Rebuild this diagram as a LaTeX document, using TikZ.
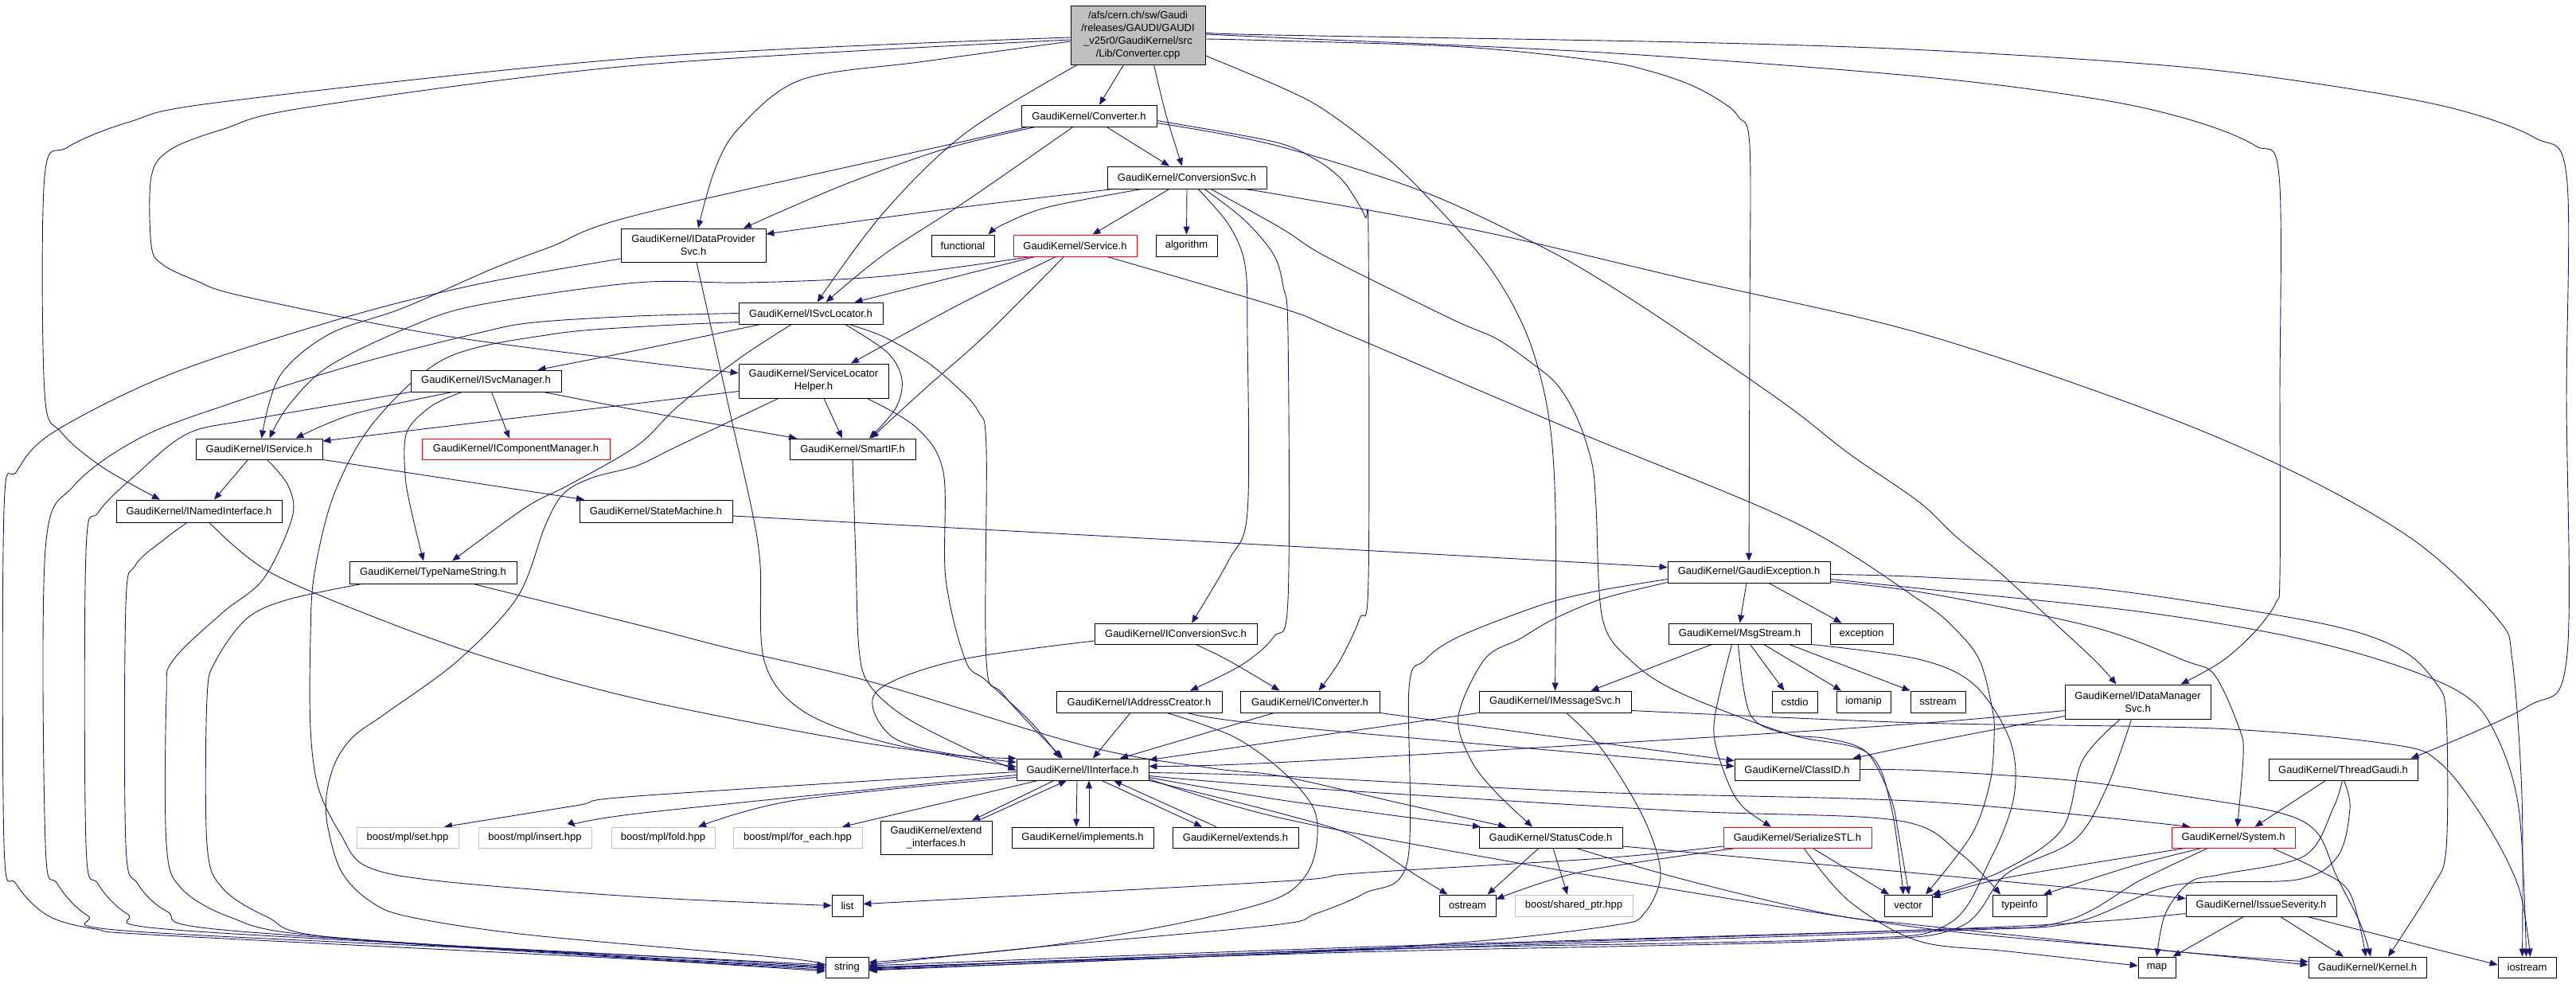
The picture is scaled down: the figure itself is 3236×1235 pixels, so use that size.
\documentclass[tikz,border=0pt]{standalone}
\usepackage{fontspec}
\setmainfont{Liberation Sans}
\usetikzlibrary{arrows.meta}
\pgfdeclarelayer{bg}
\pgfsetlayers{bg,main}
\definecolor{eblue}{HTML}{191970}
\definecolor{ngray}{HTML}{BFBFBF}
\tikzset{
  nd/.style={draw=black, line width=0.8pt, inner sep=0pt, align=center, fill=white, font=\fontsize{13}{16}\selectfont},
  rootst/.style={fill=ngray},
  redn/.style={draw=red},
  grayn/.style={draw=ngray},
  dep/.style={draw=eblue, line width=0.9pt, -{Triangle[length=10pt,width=8pt]}}
}
\newcommand{\gnode}[7]{\node[nd,#1,minimum width={(#5-#3)*1pt},minimum height={(#6-#4)*1pt}] (#2) at ({(#3+#5)/2},{(#4+#6)/2}) {#7};}
\newcommand{\dpl}[1]{\draw[dep] plot[smooth,tension=0.55] coordinates {#1};}
\begin{document}
\begin{tikzpicture}[x=1pt,y=-1pt]
\useasboundingbox (0,0) rectangle (3236,1235);
\gnode{rootst}{root}{1345}{7}{1514}{81}{/afs/cern.ch/sw/Gaudi\\/releases/GAUDI/GAUDI\\\_v25r0/GaudiKernel/src\\/Lib/Converter.cpp}
\gnode{}{conv}{1283}{132}{1453}{159}{GaudiKernel/Converter.h}
\gnode{}{csvc}{1391}{209}{1591}{237}{GaudiKernel/ConversionSvc.h}
\gnode{}{idp}{780}{287}{962}{329}{GaudiKernel/IDataProvider\\Svc.h}
\gnode{}{func}{1170}{295}{1249}{322}{functional}
\gnode{redn}{svc}{1273}{295}{1428}{322}{GaudiKernel/Service.h}
\gnode{}{algo}{1452}{295}{1529}{322}{algorithm}
\gnode{}{isl}{928}{380}{1109}{407}{GaudiKernel/ISvcLocator.h}
\gnode{}{ism}{516}{465}{705}{492}{GaudiKernel/ISvcManager.h}
\gnode{}{slh}{928}{457}{1116}{500}{GaudiKernel/ServiceLocator\\Helper.h}
\gnode{}{isvc}{246}{551}{405}{577}{GaudiKernel/IService.h}
\gnode{redn}{icm}{530}{551}{766}{577}{GaudiKernel/IComponentManager.h}
\gnode{}{smart}{992}{551}{1150}{577}{GaudiKernel/SmartIF.h}
\gnode{}{ini}{146}{628}{354}{656}{GaudiKernel/INamedInterface.h}
\gnode{}{sm}{728}{628}{920}{656}{GaudiKernel/StateMachine.h}
\gnode{}{tns}{439}{705}{649}{733}{GaudiKernel/TypeNameString.h}
\gnode{}{gex}{2095}{705}{2299}{732}{GaudiKernel/GaudiException.h}
\gnode{}{ics}{1375}{783}{1579}{809}{GaudiKernel/IConversionSvc.h}
\gnode{}{msg}{2096}{783}{2275}{809}{GaudiKernel/MsgStream.h}
\gnode{}{exc}{2299}{783}{2378}{809}{exception}
\gnode{}{iac}{1327}{868}{1535}{895}{GaudiKernel/IAddressCreator.h}
\gnode{}{icv}{1558}{868}{1733}{895}{GaudiKernel/IConverter.h}
\gnode{}{ims}{1858}{868}{2049}{895}{GaudiKernel/IMessageSvc.h}
\gnode{}{cstdio}{2226}{868}{2283}{895}{cstdio}
\gnode{}{iomanip}{2307}{868}{2375}{895}{iomanip}
\gnode{}{sstream}{2400}{868}{2469}{895}{sstream}
\gnode{}{idm}{2594}{860}{2777}{903}{GaudiKernel/IDataManager\\Svc.h}
\gnode{}{ii}{1277}{953}{1443}{980}{GaudiKernel/IInterface.h}
\gnode{}{cid}{2179}{953}{2336}{980}{GaudiKernel/ClassID.h}
\gnode{}{tg}{2850}{953}{3037}{980}{GaudiKernel/ThreadGaudi.h}
\gnode{grayn}{bset}{448}{1039}{576}{1065}{boost/mpl/set.hpp}
\gnode{grayn}{bins}{601}{1039}{743}{1065}{boost/mpl/insert.hpp}
\gnode{grayn}{bfold}{768}{1039}{898}{1065}{boost/mpl/fold.hpp}
\gnode{grayn}{bfe}{921}{1039}{1083}{1065}{boost/mpl/for\_each.hpp}
\gnode{}{ext}{1106}{1031}{1246}{1073}{GaudiKernel/extend\\\_interfaces.h}
\gnode{}{impl}{1271}{1039}{1449}{1065}{GaudiKernel/implements.h}
\gnode{}{extends}{1473}{1039}{1631}{1065}{GaudiKernel/extends.h}
\gnode{}{sc}{1858}{1039}{2038}{1065}{GaudiKernel/StatusCode.h}
\gnode{redn}{sstl}{2165}{1039}{2351}{1065}{GaudiKernel/SerializeSTL.h}
\gnode{redn}{sys}{2728}{1039}{2883}{1065}{GaudiKernel/System.h}
\gnode{}{list}{1045}{1124}{1084}{1151}{list}
\gnode{}{ostream}{1808}{1124}{1879}{1151}{ostream}
\gnode{grayn}{bsp}{1903}{1124}{2051}{1151}{boost/shared\_ptr.hpp}
\gnode{}{vector}{2367}{1124}{2427}{1151}{vector}
\gnode{}{typeinfo}{2503}{1124}{2571}{1151}{typeinfo}
\gnode{}{isev}{2746}{1124}{2935}{1151}{GaudiKernel/IssueSeverity.h}
\gnode{}{string}{1037}{1202}{1091}{1228}{string}
\gnode{}{map}{2686}{1202}{2733}{1228}{map}
\gnode{}{kernel}{2900}{1202}{3048}{1228}{GaudiKernel/Kernel.h}
\gnode{}{iostream}{3138}{1202}{3211}{1228}{iostream}
\begin{pgfonlayer}{bg}
% root
\draw[dep] ([xshift=-18pt]root.south) -- ([xshift=13pt]conv.north);
\dpl{([xshift=20pt]root.south) (1465,145) ([xshift=-6pt]csvc.north)}
\dpl{([yshift=-8pt]root.west) (1162,77) (1007,100) (929,160) (898,213) ([xshift=6pt]idp.north)}
\dpl{([yshift=-3pt]root.west) (810,72) (279,128) (163,153) (85,185) (56,222) (56,493) (77,543) (129,587) ([xshift=-49pt]ini.north)}
\dpl{([yshift=-6pt]root.west) (800,82) (385,135) (281,162) (214,188) (190,222) (190,308) (204,332) (245,352) (305,372) (547,420) (810,455) ([yshift=10pt]slh.west)}
\dpl{([yshift=-5pt]root.east) (1600,51) (1838,59) (2013,77) (2075,90) (2127,108) (2166,130) (2184,147) (2198,183) (2198,400) (gex.north)}
\dpl{([yshift=3pt]root.east) (1600,44) (2115,53) (2420,63) (2730,83) (2923,107) (3081,136) (3184,173) (3224,220) (3224,500) (3224,830) (3174,888) ([xshift=85pt]tg.north)}
\dpl{([yshift=1pt]root.east) (1600,47) (2013,66) (2410,96) (2632,124) (2753,151) (2833,183) (2863,221) (2864,500) (2864,723) (2859,757) (2833,793) (2792,830) ([xshift=54pt]idm.north)}
\dpl{([xshift=-76pt]root.south) (1213,167) (1110,267) ([xshift=8pt]isl.north)}
\dpl{([yshift=-26pt]root.east) (1610,110) (1662,137) (1729,187) (1786,240) (1869,333) (1918,420) (1945,520) (1954,643) (ims.north)}
% conv
\draw[dep] ([xshift=22pt]conv.south) -- ([xshift=-22pt]csvc.north);
\dpl{([xshift=-67pt]conv.south) (1187,187) (1058,233) ([xshift=63pt]idp.north)}
\dpl{([xshift=-20pt]conv.south) (1213,253) (1110,320) ([xshift=19pt]isl.north)}
\dpl{([xshift=-77pt]conv.south) (1213,177) (800,270) (692,310) (620,337) (506,387) (413,420) (351,473) ([xshift=3pt]isvc.north)}
\dpl{([yshift=-6pt]conv.east) (1600,178) (1652,200) (1683,223) (1701,247) (1715,273) (1719,300) (1719,727) (1708,777) (1683,830) ([xshift=11pt]icv.north)}
\dpl{([yshift=-9pt]conv.east) (1600,182) (1786,240) (1931,307) (2013,353) (2116,420) (2246,510) (2323,570) (2410,630) (2456,673) (2513,720) (2575,777) (2632,830) ([xshift=-27pt]idm.north)}
% csvc
\dpl{([xshift=-92pt]csvc.south) (1187,263) ([yshift=14pt]idp.east)}
\dpl{([xshift=-56pt]csvc.south) (1317,260) (1260,282) ([xshift=32pt]func.north)}
\draw[dep] ([xshift=-22pt]csvc.south) -- ([xshift=22pt]svc.north);
\draw[dep] (csvc.south) -- (algo.north);
\dpl{([xshift=14pt]csvc.south) (1544,283) (1564,333) (1567,420) (1567,643) (1544,703) ([xshift=20pt]ics.north)}
\dpl{([xshift=22pt]csvc.south) (1564,277) (1600,320) (1612,360) (1618,420) (1618,753) (1600,800) (1560,835) ([xshift=64pt]iac.north)}
\dpl{([xshift=30pt]csvc.south) (1610,287) (1667,323) (1822,400) (1879,425) (1920,453) (1956,483) (1982,527) (2000,583) (2005,637) (2013,777) (2049,830) (2110,870) (2246,922) (2345,945) (2375,1010) ([xshift=-6pt]vector.north)}
\dpl{([xshift=70pt]csvc.south) (1610,245) (1858,290) (2116,350) (2410,418) (2704,517) (2890,597) (3037,682) (3138,778) (3156,830) (3168,1000) ([xshift=-6pt]iostream.north)}
% svc
\draw[dep] ([xshift=-50pt]svc.south) -- ([xshift=55pt]isl.north);
\dpl{([xshift=-55pt]svc.south) (1110,347) (939,355) (800,355) (602,383) (516,410) (413,460) (362,510) ([xshift=13pt]isvc.north)}
\dpl{([xshift=-24pt]svc.south) (1200,385) ([xshift=47pt]slh.north)}
\dpl{([xshift=-14pt]svc.south) (1239,420) (1160,490) ([xshift=23pt]smart.north)}
\dpl{([xshift=40pt]svc.south) (1610,387) (1688,418) (1980,542) (2256,657) (2410,753) (2456,790) (2487,830) (2503,892) (2505,925) (2500,982) (2477,1048) ([xshift=22pt]vector.north)}
% isl
\dpl{([xshift=-63pt]isl.south) (810,438) ([xshift=65pt]ism.north)}
\dpl{([xshift=-24pt]isl.south) (929,450) (852,510) (800,560) (713,610) (661,637) ([xshift=24pt]tns.north)}
\dpl{([xshift=43pt]isl.south) (1115,443) (1133,477) (1125,513) ([xshift=21pt]smart.north)}
\dpl{([xshift=48pt]isl.south) (1110,423) (1162,453) (1203,487) (1229,517) (1239,563) (1239,830) (1260,872) ([xshift=-25pt]ii.north)}
\dpl{(isl.west) (800,397) (671,405) (602,418) (449,457) (289,507) (176,550) (93,610) (57,690) (57,1060) (72,1110) (110,1150) (170,1170) (800,1200) ([yshift=3pt]string.west)}
\dpl{([yshift=-11pt]isl.west) (810,410) (692,420) (560,450) (470,530) (420,620) (395,720) (390,800) (390,915) (400,990) (428,1048) (460,1088) (555,1107) (810,1127) (list.west)}
% ism
\dpl{([xshift=-42pt]ism.south) (444,520) ([xshift=46pt]isvc.north)}
\draw[dep] ([xshift=7pt]ism.south) -- ([xshift=-8pt]icm.north);
\dpl{([xshift=72pt]ism.south) (810,517) ([xshift=-70pt]smart.north)}
\dpl{([xshift=-30pt]ism.south) (542,510) (511,543) (509,597) (517,643) ([xshift=-12pt]tns.north)}
\dpl{(ism.south west) (315,527) (235,545) (170,597) (124,643) (108,693) (108,1060) (123,1110) (160,1148) (220,1168) (800,1200) ([yshift=1pt]string.west)}
% slh
\draw[dep] ([yshift=-13pt]slh.west) -- ([yshift=10pt]isvc.east);
\draw[dep] ([xshift=13pt]slh.south) -- ([xshift=-13pt]smart.north);
\dpl{([xshift=-44pt]slh.south) (852,560) (800,585) (744,600) (708,620) (685,660) (650,750) (575,830) (486,895) (444,925) (421,958) (410,1000) (412,1040) (429,1095) (465,1132) (516,1152) (671,1175) (1000,1205) ([yshift=-2pt]string.west)}
\dpl{([xshift=67pt]slh.south) (1151,537) (1185,593) (1188,727) (1213,830) (1239,855) (1296,908) ([xshift=-28pt]ii.north)}
% isvc
\draw[dep] ([xshift=-14pt]isvc.south) -- ([xshift=19pt]ini.north);
\draw[dep] (isvc.south east) -- ([xshift=-90pt]sm.north);
\dpl{([xshift=10pt]isvc.south) (362,610) (367,650) (331,727) (279,770) (217,830) (209,875) (209,1060) (227,1115) (289,1152) (393,1175) (800,1203) ([yshift=-1pt]string.west)}
% ini
\dpl{([xshift=13pt]ini.south) (336,717) (475,777) (625,830) (810,880) (1079,932) ([yshift=9pt]ii.west)}
\dpl{([xshift=-15pt]ini.south) (207,677) (170,710) (158,760) (158,1060) (173,1110) (210,1145) (280,1168) (800,1202) (string.west)}
% sm
\dpl{([yshift=-6pt]sm.east) (1600,685) ([yshift=6pt]gex.west)}
% tns
\dpl{([xshift=-89pt]tns.south) (362,753) (310,777) (271,830) (260,877) (260,1060) (279,1115) (336,1152) (413,1177) (800,1204) ([yshift=-3pt]string.west)}
\dpl{([xshift=50pt]tns.south) (810,787) (919,815) (1100,858) (1368,938) (1523,965) (1610,975) (1755,1008) ([xshift=-56pt]sc.north)}
% gex
\draw[dep] ([xshift=-3pt]gex.south) -- (msg.north);
\draw[dep] ([xshift=25pt]gex.south) -- ([xshift=-25pt]exc.north);
\dpl{([yshift=-9pt]gex.west) (2008,742) (1936,760) (1832,800) (1789,830) (1770,865) (1768,1082) (1714,1122) (1652,1148) (1600,1162) (1300,1190) ([yshift=3pt]string.east)}
\dpl{([yshift=-13pt]gex.west) (2013,752) (1951,778) (1910,802) (1865,828) (1832,900) (1848,955) (1879,995) ([xshift=-23pt]sc.north)}
\dpl{([yshift=-3pt]gex.east) (2420,725) (2642,740) (2911,782) (3014,815) (3060,858) (3073,900) (3073,1065) (3055,1115) ([xshift=26pt]kernel.north)}
\dpl{([yshift=-9pt]gex.east) (2420,740) (2678,767) (2864,797) (2993,830) (3091,870) (3133,918) (3164,1015) ([xshift=-1pt]iostream.north)}
\dpl{([yshift=-12pt]gex.east) (2420,745) (2627,787) (2745,830) (2782,848) (2813,915) (2818,948) ([xshift=5pt]sys.north)}
% msg
\draw[dep] ([xshift=-35pt]msg.south) -- ([xshift=45pt]ims.north);
\dpl{([xshift=-10pt]msg.south) (2155,895) (2155,935) (2173,988) (2191,1015) ([xshift=-33pt]sstl.north)}
\dpl{([xshift=-2pt]msg.south) (2199,898) (2246,922) (2297,928) (2345,945) (2375,1002) (2385,1048) ([xshift=1pt]vector.north)}
\draw[dep] ([xshift=13pt]msg.south) -- ([xshift=-13pt]cstdio.north);
\draw[dep] ([xshift=30pt]msg.south) -- ([xshift=-28pt]iomanip.north);
\draw[dep] ([xshift=62pt]msg.south) -- ([xshift=-35pt]sstream.north);
\dpl{(msg.south east) (2410,828) (2480,860) (2525,930) (2530,1000) (2500,1080) (2445,1162) (2300,1180) (1700,1193) ([yshift=-1pt]string.east)}
% ics
\dpl{([xshift=25pt]ics.south) (1544,830) ([xshift=-38pt]icv.north)}
\dpl{([yshift=-9pt]ics.west) (1200,830) (1100,870) (1120,925) (1200,948) ([yshift=14pt]ii.west)}
% iac
\draw[dep] ([xshift=-11pt]iac.south) -- ([xshift=13pt]ii.north);
\dpl{([xshift=61pt]iac.south) (1610,912) ([yshift=4pt]cid.west)}
\dpl{([xshift=35pt]iac.south) (1549,925) (1610,968) (1650,1015) (1654,1060) (1640,1100) (1600,1130) (1480,1160) (1300,1190) ([yshift=6pt]string.east)}
% icv
\draw[dep] ([xshift=-45pt]icv.south) -- ([xshift=47pt]ii.north);
\dpl{(icv.south east) (1950,925) ([yshift=11pt]cid.west)}
% ims
\dpl{(ims.south west) (1600,932) ([yshift=12pt]ii.east)}
\dpl{([xshift=14pt]ims.south) (2013,942) (2065,1028) (2086,1098) (2065,1148) (2029,1162) (1858,1182) (1600,1198) ([yshift=-3pt]string.east)}
\dpl{([yshift=-11pt]ims.east) (2410,908) (2782,915) (3004,935) (3065,958) (3122,1032) (3164,1115) ([xshift=4pt]iostream.north)}
% idm
\dpl{([yshift=-11pt]idm.west) (2420,908) (2116,928) (1600,958) ([yshift=4pt]ii.east)}
\dpl{([yshift=-18pt]idm.west) (2420,933) ([xshift=70pt]cid.north)}
\dpl{([xshift=-22pt]idm.south) (2616,955) (2590,1042) (2513,1095) (vector.north east)}
\dpl{([xshift=-8pt]idm.south) (2647,988) (2606,1055) (2520,1098) (2460,1165) (2300,1182) (1700,1196) (string.east)}
% tg
\draw[dep] ([xshift=-22pt]tg.south) -- ([xshift=27pt]sys.north);
\dpl{([xshift=-1pt]tg.south) (2931,1015) (2895,1075) (2792,1098) (2751,1108) (2720,1148) (map.north)}
\dpl{([xshift=1pt]tg.south) (2952,1015) (2937,1075) (2885,1105) (2730,1112) (2600,1160) (2420,1168) (1700,1190) ([yshift=2pt]string.east)}
% ii
\dpl{([yshift=-3pt]ii.west) (800,1000) (723,1012) ([xshift=46pt]bset.north)}
\dpl{([yshift=-7pt]ii.west) (800,1022) ([xshift=51pt]bins.north)}
\dpl{([yshift=-10pt]ii.west) (1000,1005) ([xshift=44pt]bfold.north)}
\draw[dep] ([xshift=-56pt]ii.south) -- ([xshift=56pt]bfe.north);
\draw[dep] ([xshift=-36pt]ii.south) -- ([xshift=45pt]ext.north);
\draw[dep] ([xshift=53pt]ext.north) -- ([xshift=-20pt]ii.south);
\draw[dep] ([xshift=-7pt]ii.south) -- ([xshift=-8pt]impl.north);
\draw[dep] ([xshift=8pt]impl.north) -- ([xshift=8pt]ii.south);
\draw[dep] ([xshift=24pt]ii.south) -- ([xshift=-42pt]extends.north);
\draw[dep] ([xshift=-24pt]extends.north) -- ([xshift=39pt]ii.south);
\dpl{([yshift=-10pt]ii.east) (1610,1005) ([xshift=-88pt]sc.north)}
\dpl{(ii.south east) (1610,1022) (1700,1050) (1780,1100) ([xshift=-25pt]ostream.north)}
\dpl{([yshift=-4pt]ii.east) (1610,975) (2000,995) (2420,1007) ([xshift=-54pt]sys.north)}
\dpl{([yshift=-8pt]ii.east) (1610,988) (2100,1018) (2380,1030) (2460,1070) ([xshift=-24pt]typeinfo.north)}
\dpl{([yshift=-12pt]ii.east) (1620,1030) (2000,1100) (2410,1165) (2700,1192) ([yshift=3pt]kernel.west)}
% cid
\dpl{(cid.east) (2420,968) (2600,980) (2730,998) (2860,1020) (2910,1045) (2935,1100) (2965,1160) ([xshift=4pt]kernel.north)}
% sc
\draw[dep] ([xshift=-15pt]sc.south) -- ([xshift=25pt]ostream.north);
\draw[dep] ([xshift=3pt]sc.south) -- ([xshift=-8pt]bsp.north);
\dpl{([yshift=-11pt]sc.east) (2410,1097) ([yshift=9pt]isev.west)}
\dpl{([xshift=32pt]sc.south) (2116,1105) (2297,1148) (2410,1162) (2730,1195) ([yshift=7pt]kernel.west)}
% sstl
\dpl{([xshift=-77pt]sstl.south) (1987,1095) ([yshift=8pt]ostream.east)}
\draw[dep] ([xshift=19pt]sstl.south) -- ([xshift=-24pt]vector.north);
\dpl{([yshift=-11pt]sstl.west) (2013,1078) (1703,1097) (1610,1107) ([yshift=2pt]list.east)}
\dpl{([xshift=8pt]sstl.south) (2323,1132) (2410,1182) (2523,1195) ([yshift=2pt]map.west)}
% sys
\dpl{([xshift=-60pt]sys.south) (2523,1102) ([yshift=10pt]vector.east)}
\dpl{([xshift=-40pt]sys.south) (2678,1088) ([xshift=30pt]typeinfo.north)}
\dpl{([xshift=-32pt]sys.south) (2690,1105) (2590,1158) (2420,1170) (1700,1194) ([yshift=-4pt]string.east)}
\dpl{([xshift=49pt]sys.south) (2911,1092) (2952,1122) ([xshift=-2pt]kernel.north)}
% isev
\dpl{([yshift=-10pt]isev.west) (2627,1158) (2420,1168) (1700,1192) ([yshift=-2pt]string.east)}
\draw[dep] ([xshift=-22pt]isev.south) -- ([xshift=20pt]map.north);
\draw[dep] ([xshift=24pt]isev.south) -- ([xshift=-30pt]kernel.north);
\draw[dep] ([xshift=58pt]isev.south) -- ([yshift=3pt]iostream.west);
% idp
\dpl{([yshift=-17pt]idp.west) (600,357) (429,400) (214,470) (67,543) (21,592) (5,640) (5,1060) (20,1110) (60,1150) (120,1167) (207,1175) (800,1205) ([yshift=-5pt]string.west)}
\dpl{([xshift=4pt]idp.south) (893,410) (919,527) (945,643) (955,710) (960,830) (1007,892) (1110,932) ([yshift=3pt]ii.west)}
% smart
\dpl{(smart.south) (1075,700) (1079,815) (1092,860) (1136,900) (1213,940) ([yshift=-1pt]ii.west)}
\end{pgfonlayer}
\end{tikzpicture}
\end{document}
